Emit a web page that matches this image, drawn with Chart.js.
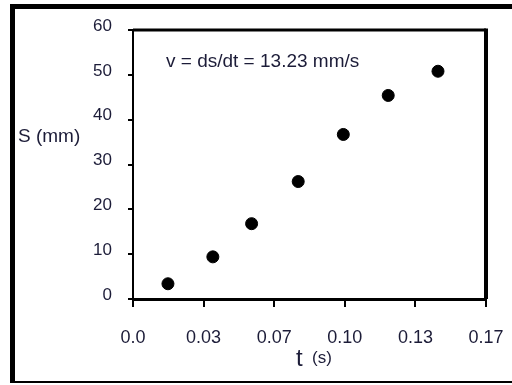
<!DOCTYPE html>
<html>
<head>
<meta charset="utf-8">
<script src="https://cdn.jsdelivr.net/npm/chart.js@4/dist/chart.umd.min.js"></script>
<style>
  html, body { margin: 0; padding: 0; background: #fff; }
  #wrap { width: 512px; height: 385px; }
</style>
</head>
<body>
<div id="wrap"><canvas id="scatterChart" width="512" height="385"></canvas></div>
<script>
// data
var timeValues = [0.0165, 0.0377, 0.056, 0.078, 0.0993, 0.1205, 0.144];
var distValues = [3.4, 9.4, 16.8, 26.2, 36.7, 45.4, 50.8];
var xTickValues = [0, 1 / 30, 2 / 30, 3 / 30, 4 / 30, 5 / 30];
var xTickLabels = ["0.0", "0.03", "0.07", "0.10", "0.13", "0.17"];
var yTickLabels = ["0", "10", "20", "30", "40", "50", "60"];
var note = "v = ds/dt = 13.23 mm/s";

var textColor = "#1c1c38";

var points = timeValues.map(function (t, i) {
  return { x: t, y: distValues[i] };
});

// outer frame, plot box, note and axis titles
var framePlugin = {
  id: "frame",
  afterDraw: function (chart) {
    var c = chart.ctx;
    var a = chart.chartArea;
    c.save();
    c.fillStyle = "#000";
    c.fillRect(10, 4, 5, 379);
    c.fillRect(10, 4, 502, 5);
    c.fillRect(10, 381, 502, 2);

    c.strokeStyle = "#000";
    c.lineWidth = 3;
    c.beginPath();
    c.moveTo(a.left, a.top);
    c.lineTo(a.right, a.top);
    c.stroke();
    c.lineWidth = 4;
    c.beginPath();
    c.moveTo(a.right, a.top - 1.5);
    c.lineTo(a.right, a.bottom);
    c.stroke();

    c.fillStyle = textColor;
    c.textBaseline = "middle";
    c.textAlign = "left";
    c.font = "19px 'Liberation Sans', Arial, sans-serif";
    c.fillText(note, 166, 62);
    c.fillText("S (mm)", 18, 137);
    c.font = "24px 'Liberation Sans', Arial, sans-serif";
    c.fillText("t", 296, 359);
    c.font = "17px 'Liberation Sans', Arial, sans-serif";
    c.fillText("(s)", 312, 358);
    c.restore();
  }
};

var ctx = document.getElementById("scatterChart").getContext("2d");
var myChart = new Chart(ctx, {
  type: "scatter",
  data: {
    datasets: [
      {
        label: "S",
        data: points,
        backgroundColor: "#000",
        borderColor: "#000",
        pointRadius: 6,
        pointHoverRadius: 6,
      },
    ],
  },
  options: {
    responsive: false,
    animation: false,
    layout: { padding: { left: 0, top: 30, right: 26, bottom: 0 } },
    plugins: {
      legend: { display: false },
      tooltip: { enabled: false },
    },
    scales: {
      x: {
        type: "linear",
        min: 0,
        max: 1 / 6,
        afterBuildTicks: function (scale) {
          scale.ticks = xTickValues.map(function (v) { return { value: v }; });
        },
        afterFit: function (scale) {
          scale.height = 86;
          scale.paddingLeft = 0;
          scale.paddingRight = 0;
        },
        grid: {
          drawOnChartArea: false,
          drawTicks: true,
          tickLength: 8,
          color: "#000",
          lineWidth: 2,
        },
        border: { display: true, color: "#000", width: 3 },
        ticks: {
          padding: 20,
          maxRotation: 0,
          autoSkip: false,
          color: textColor,
          font: { family: "'Liberation Sans', Arial, sans-serif", size: 18 },
          callback: function (v, i) { return xTickLabels[i]; },
        },
      },
      y: {
        type: "linear",
        min: 0,
        max: 60,
        afterFit: function (scale) {
          scale.width = 133;
          scale.paddingTop = 0;
          scale.paddingBottom = 0;
        },
        grid: {
          drawOnChartArea: false,
          drawTicks: true,
          tickLength: 5,
          color: "#000",
          lineWidth: 2,
        },
        border: { display: true, color: "#000", width: 2 },
        ticks: {
          stepSize: 10,
          padding: 16,
          labelOffset: -4,
          color: textColor,
          font: { family: "'Liberation Sans', Arial, sans-serif", size: 17 },
          callback: function (v, i) { return yTickLabels[i]; },
        },
      },
    },
  },
  plugins: [framePlugin],
});
</script>
</body>
</html>
